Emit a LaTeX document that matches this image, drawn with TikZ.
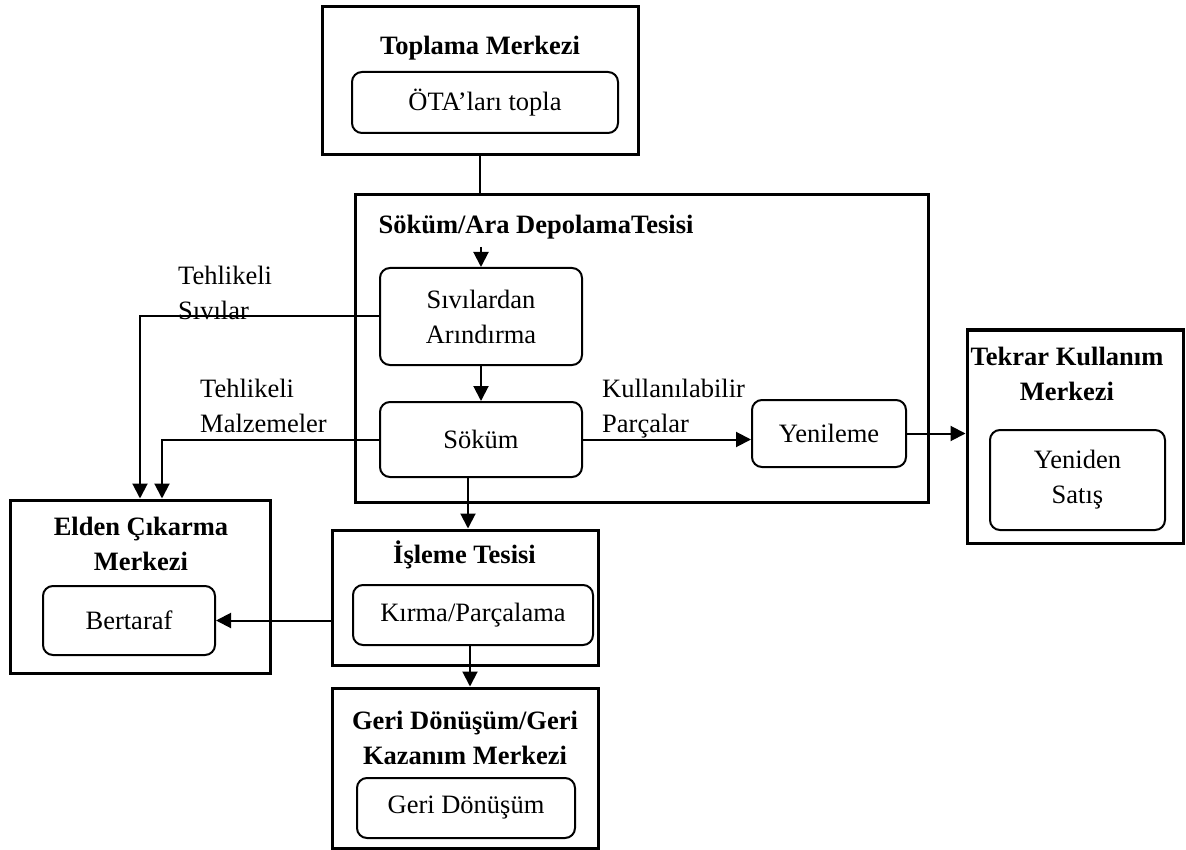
\documentclass[tikz,border=0pt]{standalone}
\usepackage{fontspec}
\setmainfont{Liberation Serif}
\usetikzlibrary{arrows.meta,calc}
\begin{document}
\begin{tikzpicture}[x=1pt,y=-1pt,
  font=\fontsize{26.5}{35}\selectfont,
  outer/.style={draw,line width=3pt,inner sep=0pt},
  proc/.style={draw,line width=2pt,rounded corners=10pt,inner sep=0pt,align=center},
  title/.style={font=\fontsize{26.5}{35}\selectfont\bfseries,align=center,inner sep=0pt},
  lbl/.style={align=left,anchor=west,inner sep=0pt},
  link/.style={line width=2pt},
  arr/.style={line width=2pt,-{Triangle[length=15pt,width=15pt]}}]
\useasboundingbox (0,0) rectangle (1186,850);

% facility frames
\node[outer,minimum width=316pt,minimum height=148pt] (top)  at (480,81) {};
\node[outer,minimum width=573pt,minimum height=307pt] (sok)  at (641.5,348.5) {};
\node[outer,minimum width=216pt,minimum height=213pt] (tek)  at (1075,436.5) {};
\node[outer,minimum width=260pt,minimum height=173pt] (eld)  at (140,586.5) {};
\node[outer,minimum width=266pt,minimum height=135pt] (isl)  at (465,597.5) {};
\node[outer,minimum width=266pt,minimum height=160pt] (geri) at (465,768) {};

% frame titles
\node[title] (topT)  at (480,48.5)  {Toplama Merkezi};
\node[title] (sokT)  at (536,226.7) {Söküm/Ara DepolamaTesisi};
\node[title] (tekT)  at (1067,373.5) {Tekrar Kullanım\\Merkezi};
\node[title] (eldT)  at (141,543.5) {Elden Çıkarma\\Merkezi};
\node[title] (islT)  at (464.5,554.5) {İşleme Tesisi};
\node[title] (geriT) at (465,737.5) {Geri Dönüşüm/Geri\\Kazanım Merkezi};

% process steps
\node[proc,minimum width=266pt,minimum height=61pt]  (ota)   at (485,102.5) {ÖTA’ları topla};
\node[proc,minimum width=202pt,minimum height=97pt]  (siv)   at (481,316.5) {Sıvılardan\\Arındırma};
\node[proc,minimum width=202pt,minimum height=75pt]  (sokum) at (481,439.5) {Söküm};
\node[proc,minimum width=154pt,minimum height=67pt]  (yen)   at (829,433.5) {Yenileme};
\node[proc,minimum width=175pt,minimum height=100pt] (ysat)  at (1077.5,480) {Yeniden\\Satış};
\node[proc,minimum width=172pt,minimum height=69pt]  (bert)  at (129,620.5) {Bertaraf};
\node[proc,minimum width=240pt,minimum height=60pt]  (kirma) at (473,615) {Kırma/Parçalama};
\node[proc,minimum width=218pt,minimum height=60pt]  (gd)    at (466,808) {Geri Dönüşüm};

% flow labels
\node[lbl] (lsiv) at (178,292.7) {Tehlikeli\\Sıvılar};
\node[lbl] (lmal) at (200,406)   {Tehlikeli\\Malzemeler};
\node[lbl] (lkul) at (602,408.5) {Kullanılabilir\\Parçalar};

% connectors
\coordinate (inA) at (481,247);
\coordinate (sd)  at ([xshift=-13pt]sokum.south);
\coordinate (kd)  at ([xshift=-3pt]kirma.south);

\draw[link] (top.south) -- (top.south |- sok.north);
\draw[arr] (inA) -- (siv.north);
\draw[arr] (siv.south) -- (sokum.north);
\draw[arr] (sokum.east) -- (sokum.east -| yen.west);
\draw[arr] (yen.east) -- (yen.east -| tek.west);
\draw[arr] (sd) -- (sd |- isl.north);
\draw[arr] (kd) -- (kd |- geri.north);
\draw[arr] (isl.west |- bert.east) -- (bert.east);
\draw[arr] (siv.west) -| (eld.north);
\draw[arr] (sokum.west) -| ([xshift=22pt]eld.north);
\end{tikzpicture}
\end{document}
